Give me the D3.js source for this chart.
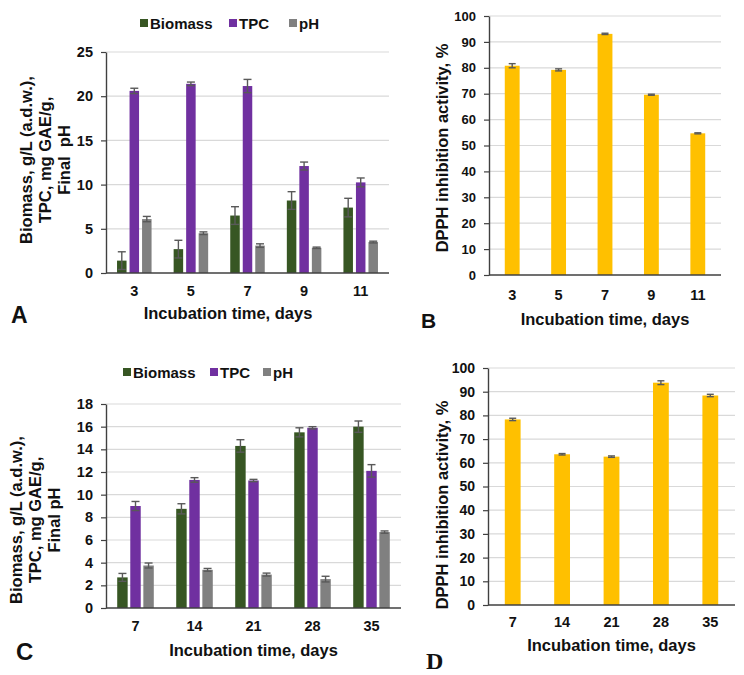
<!DOCTYPE html>
<html><head><meta charset="utf-8">
<script src="https://cdn.jsdelivr.net/npm/d3@7"></script>
<style>body{margin:0;background:#fff}svg{display:block}text{font-family:"Liberation Sans",Arial,sans-serif;font-weight:bold;fill:#111;white-space:pre}</style>
</head><body>
<script>
// ---- data ----
const seriesNames = ["Biomass","TPC","pH"];
const seriesColors = ["#375623","#7030A0","#808080"];
const daysA = ["3","5","7","9","11"];
const biomassA = [1.4,2.7,6.5,8.2,7.4];
const biomassErrA = [1.0,1.0,1.0,1.0,1.05];
const tpcA = [20.6,21.4,21.15,12.1,10.25];
const tpcErrA = [0.3,0.2,0.75,0.45,0.5];
const phA = [6.1,4.5,3.1,2.85,3.5];
const phErrA = [0.3,0.15,0.2,0.08,0.1];
const dpphB = [80.8,79.2,93.1,69.6,54.7];
const dpphErrB = [0.8,0.4,0.25,0.2,0.2];
const daysC = ["7","14","21","28","35"];
const biomassC = [2.7,8.75,14.3,15.5,16.0];
const biomassErrC = [0.35,0.45,0.55,0.4,0.5];
const tpcC = [9.0,11.3,11.25,15.9,12.1];
const tpcErrC = [0.4,0.2,0.1,0.1,0.55];
const phC = [3.75,3.37,2.95,2.55,6.7];
const phErrC = [0.22,0.12,0.13,0.25,0.1];
const dpphD = [78.3,63.6,62.6,93.8,88.4];
const dpphErrD = [0.5,0.3,0.3,0.8,0.5];
const ticksA = [0,5,10,15,20,25];
const ticksC = [0,2,4,6,8,10,12,14,16,18];
const ticksBD = [0,10,20,30,40,50,60,70,80,90,100];
const xTitle = "Incubation time, days";
const yTitleAC = ["Biomass, g/L (a.d.w.),","TPC, mg GAE/g,"];
const yTitleA3 = "Final  pH";
const yTitleC3 = "Final pH";
const yTitleBD = "DPPH inhibition activity, %";

const svg = d3.select("body").append("svg").attr("width",744).attr("height",675);

function panel(o){
  const g = svg.append("g");
  const y = d3.scaleLinear().domain([0,o.ticks[o.ticks.length-1]]).range([o.b,o.t]);
  const x = d3.scaleBand().domain(o.cats).range([o.l,o.r]).paddingInner(o.pad).paddingOuter(o.pad/2);
  // grid
  g.append("g").selectAll("line").data(o.ticks.slice(1)).join("line")
    .attr("x1",o.l).attr("x2",o.r).attr("y1",d=>y(d)).attr("y2",d=>y(d))
    .attr("stroke","#d9d9d9").attr("stroke-width",1.2);
  // bars
  const inner = d3.scaleBand().domain(d3.range(o.series.length)).range([0,x.bandwidth()]).paddingInner(o.innerPad);
  o.series.forEach((s,si)=>{
    const sg = g.append("g");
    sg.selectAll("rect").data(s.vals).join("rect")
      .attr("x",(d,i)=>x(o.cats[i])+inner(si)).attr("width",inner.bandwidth())
      .attr("y",d=>y(d)).attr("height",d=>y(0)-y(d)).attr("fill",s.color);
    const eg = g.append("g").attr("stroke","#595959").attr("stroke-width",1.4);
    s.vals.forEach((v,i)=>{
      const cx = x(o.cats[i])+inner(si)+inner.bandwidth()/2;
      const e = s.err[i];
      eg.append("line").attr("x1",cx).attr("x2",cx).attr("y1",y(v-e)).attr("y2",y(v+e));
      [v-e,v+e].forEach(val=>eg.append("line").attr("x1",cx-o.cap/2).attr("x2",cx+o.cap/2).attr("y1",y(val)).attr("y2",y(val)));
    });
  });
  // y axis
  const ya = g.append("g").attr("transform",`translate(${o.l},0)`)
    .call(d3.axisLeft(y).tickValues(o.ticks).tickSize(5).tickPadding(o.tpad).tickSizeOuter(0));
  ya.select(".domain").attr("stroke","#404040").attr("stroke-width",1.4);
  ya.selectAll(".tick line").attr("stroke","#404040").attr("stroke-width",1.2);
  ya.selectAll("text").style("font-size",o.tfs+"px").style("font-family","Liberation Sans").style("font-weight","bold").attr("fill","#111");
  // x axis
  g.append("line").attr("x1",o.l).attr("x2",o.r).attr("y1",y(0)).attr("y2",y(0)).attr("stroke","#404040").attr("stroke-width",1.4);
  const xa = g.append("g").attr("transform",`translate(0,${o.b})`).call(d3.axisBottom(x).tickSize(0).tickPadding(o.xpad));
  xa.select(".domain").remove();
  xa.selectAll("text").style("font-size",o.xfs+"px").style("font-family","Liberation Sans").style("font-weight","bold").attr("fill","#111");
  // x title
  g.append("text").attr("x",o.xtx!==undefined?o.xtx:(o.l+o.r)/2).attr("y",o.xty).attr("text-anchor","middle").style("font-size","16.5px").text(xTitle);
  // y title lines
  o.ylines.forEach((ln,i)=>{
    g.append("text").attr("transform",`translate(${o.ytx[i]},${o.ytc}) rotate(-90)`)
      .attr("text-anchor","middle").style("font-size","16.5px").text(ln);
  });
  // legend
  if(o.legend){
    o.legend.forEach((lg,i)=>{
      g.append("rect").attr("x",lg.x).attr("y",o.legY-4).attr("width",8).attr("height",8).attr("fill",o.series[i].color);
      g.append("text").attr("x",lg.x+10).attr("y",o.legY+5.5).style("font-size","15px").text(o.series[i].name);
    });
  }
  // panel letter
  g.append("text").attr("x",o.letter.x).attr("y",o.letter.y).style("font-size",o.letter.fs+"px")
    .style("font-family",o.letter.serif?"Liberation Serif":"Liberation Sans").text(o.letter.t);
}

panel({cats:daysA,ticks:ticksA,l:106,r:389,t:52,b:273,pad:0.39,innerPad:0.24,cap:8,tpad:8,tfs:14.5,xfs:14.5,xpad:13,xty:319,xtx:228,
  series:[{name:seriesNames[0],color:seriesColors[0],vals:biomassA,err:biomassErrA},
          {name:seriesNames[1],color:seriesColors[1],vals:tpcA,err:tpcErrA},
          {name:seriesNames[2],color:seriesColors[2],vals:phA,err:phErrA}],
  ylines:[yTitleAC[0],yTitleAC[1],yTitleA3],ytx:[32,51,70],ytc:160,
  legend:[{x:140},{x:229},{x:289}],legY:23,
  letter:{t:"A",x:11,y:323,fs:23}});

panel({cats:daysA,ticks:ticksBD,l:489,r:721,t:16,b:275,pad:0.68,innerPad:0,cap:7,tpad:8,tfs:13,xfs:14.5,xpad:15,xty:325,
  series:[{name:"DPPH",color:"#FFC000",vals:dpphB,err:dpphErrB}],
  ylines:[yTitleBD],ytx:[448],ytc:148,
  letter:{t:"B",x:421,y:328,fs:21}});

panel({cats:daysC,ticks:ticksC,l:106,r:401,t:404,b:608,pad:0.38,innerPad:0.2,cap:8,tpad:8,tfs:14.5,xfs:14.5,xpad:13,xty:656,
  series:[{name:seriesNames[0],color:seriesColors[0],vals:biomassC,err:biomassErrC},
          {name:seriesNames[1],color:seriesColors[1],vals:tpcC,err:tpcErrC},
          {name:seriesNames[2],color:seriesColors[2],vals:phC,err:phErrC}],
  ylines:[yTitleAC[0],yTitleAC[1],yTitleC3],ytx:[22,41,60],ytc:520,
  legend:[{x:123},{x:210},{x:263}],legY:372,
  letter:{t:"C",x:16,y:660,fs:24}});

panel({cats:daysC,ticks:ticksBD,l:488,r:735,t:368,b:605,pad:0.68,innerPad:0,cap:7,tpad:8,tfs:14,xfs:14.5,xpad:12,xty:651,
  series:[{name:"DPPH",color:"#FFC000",vals:dpphD,err:dpphErrD}],
  ylines:[yTitleBD],ytx:[448],ytc:505,
  letter:{t:"D",x:426,y:669,fs:24,serif:true}});
</script>
</body></html>
